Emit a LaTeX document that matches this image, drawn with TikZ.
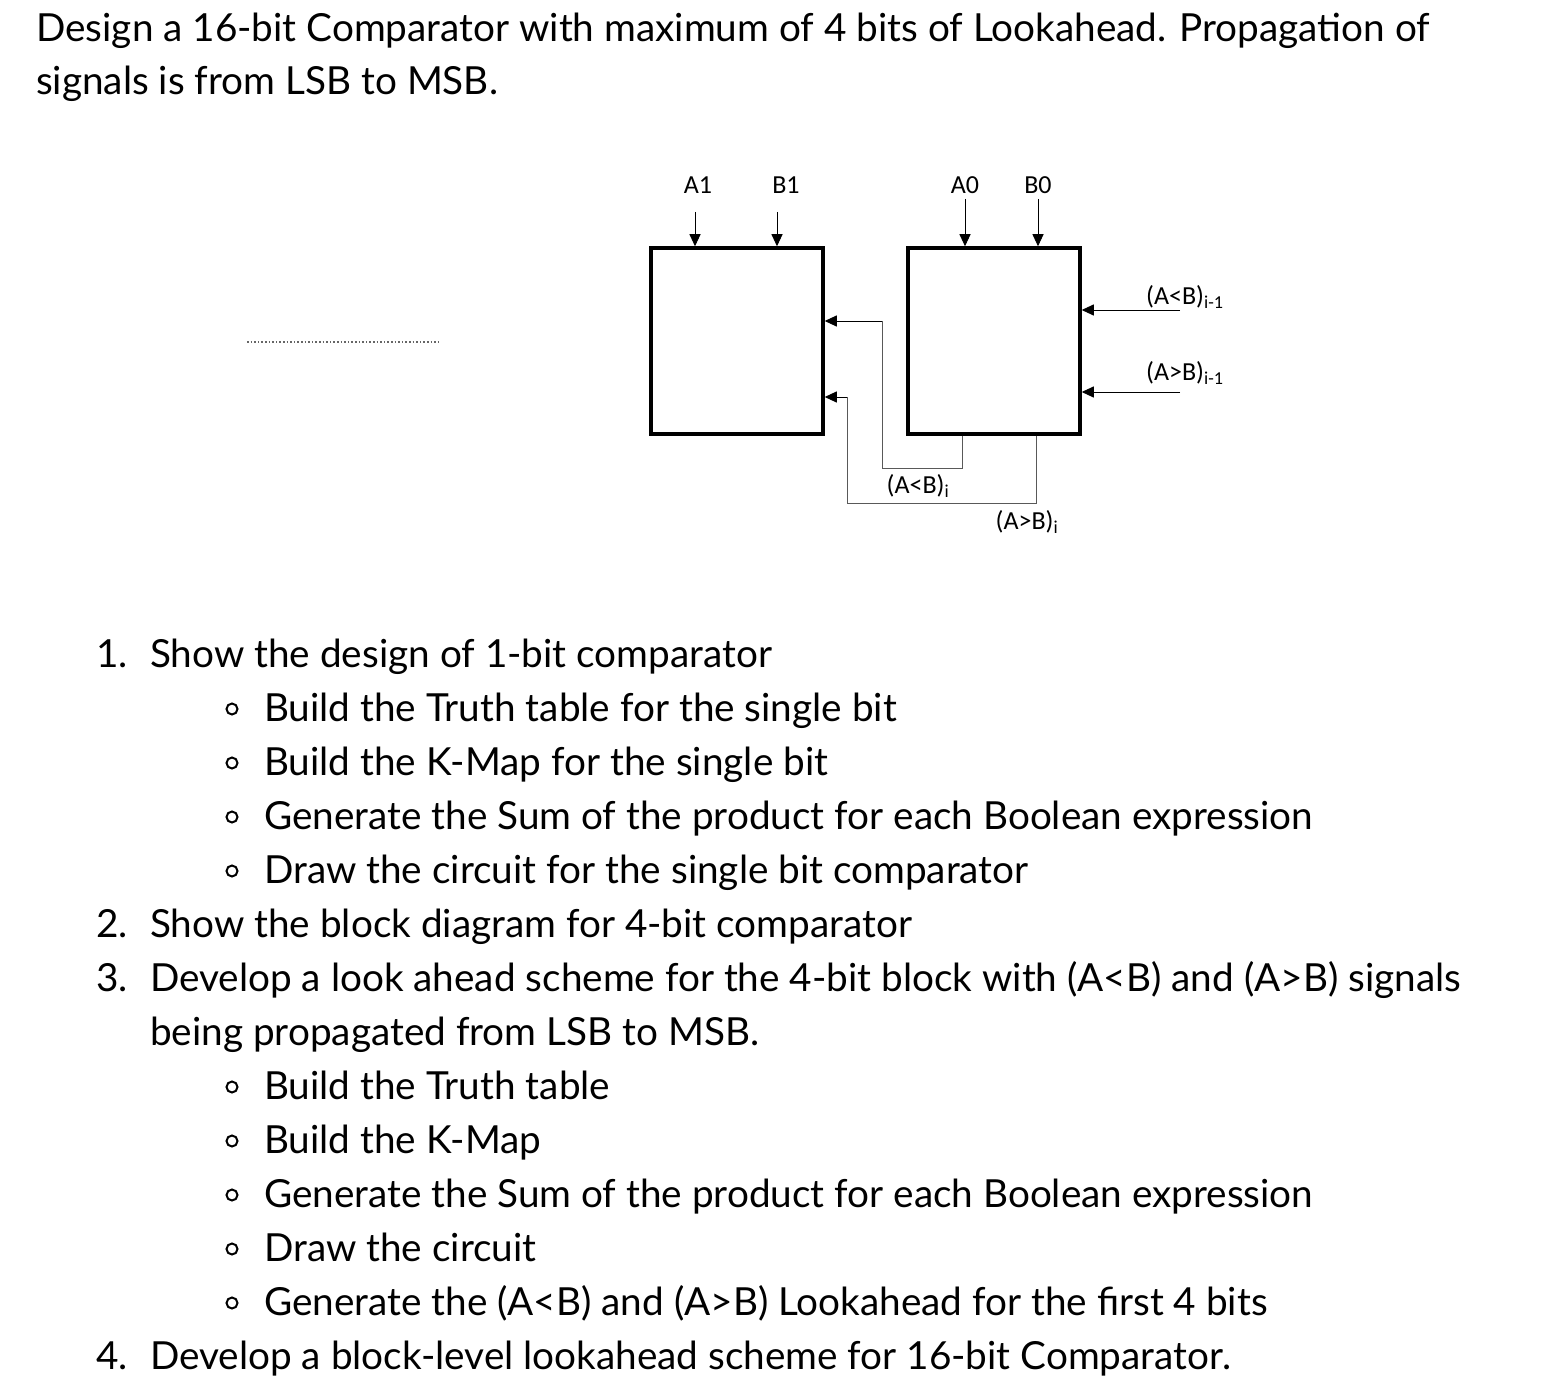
\documentclass[tikz,border=0pt]{standalone}
\usepackage{fontspec}
\setmainfont{Lato}
\newfontfamily\lblfont{Carlito}
\usetikzlibrary{arrows.meta}
\begin{document}
\begin{tikzpicture}[x=1pt,y=-1pt,
  txt/.style={anchor=base west,inner sep=0pt,font=\fontsize{38.7}{44}\selectfont},
  bul/.style={draw,circle,line width=2pt,minimum size=11pt,inner sep=0pt},
  lbl/.style={inner sep=0pt,font=\lblfont\fontsize{26}{30}\selectfont},
  blk/.style={draw,line width=3.5pt,minimum width=172pt,minimum height=186pt,inner sep=0pt},
  sig/.style={line width=0.9pt,-{Triangle[length=12pt,width=11pt]}},
  wire/.style={line width=0.7pt,gray!70!black}]
\useasboundingbox (0,0) rectangle (1554,1396);
\node[txt] (t1) at (36,42) {Design a 16-bit Comparator with maximum of 4 bits of Lookahead. Propagation of};
\node[txt] (t2) at (36,95) {signals is from LSB to MSB.};
% blocks
\node[blk] (b1) at (737,341) {};
\node[blk] (b0) at (994,341) {};
\node[lbl] (la1) at (698,185) {A1};
\node[lbl] (lb1) at (786,185) {B1};
\node[lbl] (la0) at (965,185) {A0};
\node[lbl] (lb0) at (1038,185) {B0};
\coordinate (pa1) at (695,212); \coordinate (pb1) at (777,212);
\coordinate (pa0) at (965,199); \coordinate (pb0) at (1038,199);
\draw[sig] (pa1) -- (pa1 |- b1.north);
\draw[sig] (pb1) -- (pb1 |- b1.north);
\draw[sig] (pa0) -- (pa0 |- b0.north);
\draw[sig] (pb0) -- (pb0 |- b0.north);
\coordinate (plt) at (1180,310); \coordinate (pgt) at (1180,392);
\draw[sig] (plt) -- (plt -| b0.east);
\draw[sig] (pgt) -- (pgt -| b0.east);
\node[lbl,anchor=west] (llt) at (1146,297) {(A<B)\textsubscript{i-1}};
\node[lbl,anchor=west] (lgt) at (1146,373) {(A>B)\textsubscript{i-1}};
% feedback
\coordinate (c1) at (962,468); \coordinate (c2) at (882,468); \coordinate (c3) at (882,321);
\draw[wire] (c1 |- b0.south) -- (c1) -- (c2) -- (c3);
\draw[sig] (c3) -- (c3 -| b1.east);
\coordinate (d1) at (1036,503); \coordinate (d2) at (847,503); \coordinate (d3) at (847,397);
\draw[wire] (d1 |- b0.south) -- (d1) -- (d2) -- (d3);
\draw[sig] (d3) -- (d3 -| b1.east);
\node[lbl] (lai) at (918,486) {(A<B)\textsubscript{i}};
\node[lbl] (lbi) at (1027,522) {(A>B)\textsubscript{i}};
\coordinate (dl1) at (247,342); \coordinate (dl2) at (440,342);
\draw[line width=1.6pt,dotted,gray!80!black] (dl1) -- (dl2);
% list
\node[txt] (n1) at (96,667) {1.};
\node[txt] (i1) at (150,667) {Show the design of 1-bit comparator};
\node[bul] (s11) at (232,709) {}; \node[txt] at (264,721) {Build the Truth table for the single bit};
\node[bul] (s12) at (232,763) {}; \node[txt] at (264,775) {Build the K-Map for the single bit};
\node[bul] (s13) at (232,817) {}; \node[txt] at (264,829) {Generate the Sum of the product for each Boolean expression};
\node[bul] (s14) at (232,871) {}; \node[txt] at (264,883) {Draw the circuit for the single bit comparator};
\node[txt] (n2) at (96,937) {2.};
\node[txt] (i2) at (150,937) {Show the block diagram for 4-bit comparator};
\node[txt] (n3) at (96,991) {3.};
\node[txt] (i3) at (150,991) {Develop a look ahead scheme for the 4-bit block with (A<B) and (A>B) signals};
\node[txt] (i3b) at (150,1045) {being propagated from LSB to MSB.};
\node[bul] (s31) at (232,1087) {}; \node[txt] at (264,1099) {Build the Truth table};
\node[bul] (s32) at (232,1141) {}; \node[txt] at (264,1153) {Build the K-Map};
\node[bul] (s33) at (232,1195) {}; \node[txt] at (264,1207) {Generate the Sum of the product for each Boolean expression};
\node[bul] (s34) at (232,1249) {}; \node[txt] at (264,1261) {Draw the circuit};
\node[bul] (s35) at (232,1303) {}; \node[txt] at (264,1315) {Generate the (A<B) and (A>B) Lookahead for the first 4 bits};
\node[txt] (n4) at (96,1369) {4.};
\node[txt] (i4) at (150,1369) {Develop a block-level lookahead scheme for 16-bit Comparator.};
\end{tikzpicture}
\end{document}
